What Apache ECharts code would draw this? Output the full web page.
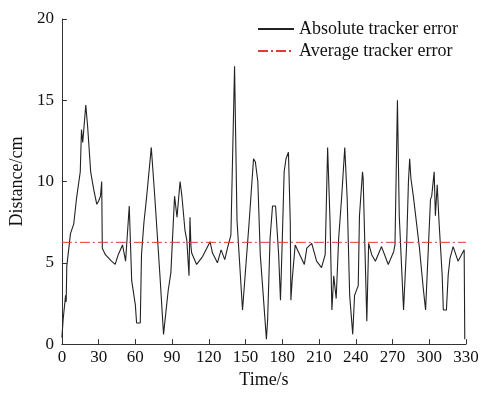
<!DOCTYPE html>
<html>
<head>
<meta charset="utf-8">
<script src="https://cdn.jsdelivr.net/npm/echarts@6/dist/echarts.min.js"></script>
<style>
  html, body { margin: 0; padding: 0; background: #fff; }
  #main { width: 485px; height: 394px; }
</style>
</head>
<body>
<div id="main"></div>
<script>
// time stamps (s) and absolute tracker error (cm)
const times = [0, 1, 3, 3.5, 4, 7, 9.7, 12, 15, 16, 17, 19.5, 21, 23.5, 26, 28.5, 30, 31.5, 32.5, 33,
  35.5, 40.5, 43.5, 46, 49.5, 52, 53, 55, 57, 60, 61, 64, 65, 67, 69, 73, 76, 80, 83, 84,
  86.8, 89, 92, 94, 96.5, 98, 100.5, 102, 103.8, 104.6, 105.4, 106, 110, 115, 121, 123, 127, 130, 133, 135.5,
  138, 141, 143, 147.5, 149, 153, 156.5, 158, 160, 162, 165, 167, 168, 170, 172, 174.5, 177, 178.5, 180, 181.5,
  183, 185, 186.5, 187, 188, 190.5, 192, 198, 200, 204, 208, 212, 215, 217, 219, 220.5, 222, 224, 226, 228.5,
  231, 233, 235, 237.5, 239, 242, 243, 245.5, 246, 249, 250.5, 253, 256, 261, 266.5, 271, 272, 274, 275.5, 279,
  281.5, 283, 284, 285, 287, 289.5, 292, 295, 297, 299, 301, 302, 304, 305, 306.5, 308, 310.5, 311.5, 314, 315.5,
  317, 319.5, 323.5, 328.5, 329];
const errors = [0.4, 1.5, 3.0, 2.6, 4.8, 6.8, 7.4, 9.0, 10.6, 13.2, 12.4, 14.7, 13.4, 10.6, 9.5, 8.6, 8.8, 9.1, 10.0, 5.9,
  5.5, 5.1, 4.9, 5.5, 6.1, 5.1, 5.1, 8.5, 3.9, 2.4, 1.3, 1.3, 5.5, 7.5, 8.9, 12.1, 8.9, 4.3, 0.6, 0.6,
  3.3, 4.4, 9.1, 7.8, 10.0, 9.1, 7.0, 6.4, 4.2, 7.8, 6.0, 5.6, 4.9, 5.4, 6.3, 5.6, 5.0, 5.8, 5.2, 6.0,
  6.7, 17.1, 7.6, 2.1, 2.0, 7.6, 11.4, 11.2, 10.0, 5.5, 2.4, 0.3, 1.5, 6.5, 8.5, 8.5, 5.5, 2.7, 6.5, 10.6,
  11.4, 11.8, 7.5, 2.7, 3.9, 6.1, 6.1, 4.9, 5.9, 6.2, 5.1, 4.7, 5.5, 12.1, 7.5, 2.1, 4.2, 2.8, 6.5, 9.1,
  12.1, 8.9, 3.0, 0.6, 3.0, 3.6, 7.9, 10.6, 10.2, 1.4, 6.2, 5.5, 5.1, 6.0, 4.9, 5.7, 6.1, 15.0, 7.9, 2.1,
  6.1, 10.0, 11.4, 10.2, 9.1, 7.5, 5.9, 3.5, 2.1, 5.5, 8.9, 9.1, 10.6, 7.9, 9.8, 7.5, 4.3, 2.1, 2.1, 4.3,
  5.3, 6.0, 5.1, 5.8, 0.3];
const averageError = 6.26;
const averageSpan = [0, 330];
const xTicks = { min: 0, max: 330, interval: 30 };
const yTicks = { min: 0, max: 20, interval: 5 };

const serif = '"Liberation Serif", "Times New Roman", serif';
const chart = echarts.init(document.getElementById('main'));

const axisCommon = {
  axisLine: { lineStyle: { color: '#333', width: 1 } },
  axisTick: { inside: true, length: 5, lineStyle: { color: '#333' } },
  splitLine: { show: false },
  nameTextStyle: { fontFamily: serif, fontSize: 18, color: '#111' },
  axisLabel: { fontFamily: serif, fontSize: 17, color: '#111' }
};

chart.setOption({
  animation: false,
  backgroundColor: '#fff',
  grid: { left: 58, right: 19, top: 19, bottom: 47 },
  legend: {
    orient: 'vertical',
    left: 252,
    top: 15,
    itemWidth: 36,
    itemHeight: 10,
    itemGap: 4,
    itemStyle: { opacity: 0 },
    textStyle: { fontFamily: serif, fontSize: 18, color: '#111' },
    data: ['Absolute tracker error', 'Average tracker error']
  },
  xAxis: Object.assign({}, axisCommon, {
    type: 'value',
    min: xTicks.min, max: xTicks.max, interval: xTicks.interval,
    name: 'Time/s',
    nameLocation: 'middle',
    nameGap: 26,
    axisLabel: Object.assign({}, axisCommon.axisLabel, { margin: 5 })
  }),
  yAxis: Object.assign({}, axisCommon, {
    type: 'value',
    min: yTicks.min, max: yTicks.max, interval: yTicks.interval,
    name: 'Distance/cm',
    nameLocation: 'middle',
    nameGap: 30,
    axisLabel: Object.assign({}, axisCommon.axisLabel, { margin: 8 })
  }),
  series: [
    {
      name: 'Absolute tracker error',
      type: 'line',
      symbol: 'none',
      lineStyle: { color: '#222', width: 1.1 },
      itemStyle: { color: '#222' },
      data: times.map((t, i) => [t, errors[i]])
    },
    {
      name: 'Average tracker error',
      type: 'line',
      symbol: 'none',
      lineStyle: { color: '#e23a36', width: 1, type: [10, 3, 2, 3] },
      itemStyle: { color: '#e23a36' },
      data: averageSpan.map(t => [t, averageError])
    }
  ]
});
</script>
</body>
</html>
